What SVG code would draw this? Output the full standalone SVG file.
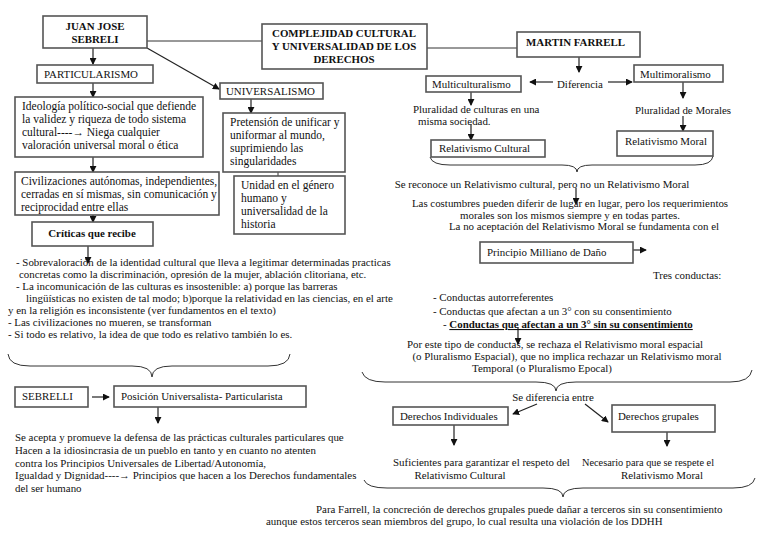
<svg xmlns="http://www.w3.org/2000/svg" width="768" height="543" viewBox="0 0 768 543">
<defs>
<style>
.box{fill:#fff;stroke:#555;stroke-width:1.6}
.t{font-family:"Liberation Serif","DejaVu Serif",serif;font-size:10.9px;fill:#111}
.lg{font-size:11.5px}
.b{font-weight:bold}
.c{text-anchor:middle}
.ln{stroke:#333;stroke-width:1;fill:none}
.ar{stroke:#222;stroke-width:1.2;fill:none;marker-end:url(#ah)}
</style>
<marker id="ah" viewBox="0 0 8 8" refX="7" refY="4" markerWidth="7" markerHeight="7" markerUnits="userSpaceOnUse" orient="auto">
<path d="M0,0 L8,4 L0,8 z" fill="#111"/>
</marker>
</defs>
<rect width="768" height="543" fill="#fff"/>

<g id="connectors">
<line class="ln" x1="147" y1="41" x2="262" y2="41"/>
<line class="ln" x1="427" y1="48" x2="517" y2="48"/>
<line class="ar" x1="93" y1="48" x2="93" y2="64"/>
<line class="ar" x1="147" y1="48" x2="219" y2="89"/>
<line class="ar" x1="93" y1="83" x2="93" y2="97"/>
<line class="ar" x1="93" y1="157" x2="93" y2="172"/>
<line class="ar" x1="93" y1="204" x2="93" y2="222"/>
<line class="ar" x1="88" y1="246" x2="88" y2="263"/>
<line class="ar" x1="251" y1="98" x2="251" y2="113"/>
<line class="ln" x1="278" y1="172" x2="278" y2="176"/>
<path class="ln" d="M8,354 Q9,366 30,366 L132,366 Q152,366 152,377 Q152,366 172,366 L268,366 Q289,366 290,354"/>
<line class="ar" x1="92" y1="397" x2="109" y2="397"/>
<line class="ar" x1="158" y1="407" x2="158" y2="423"/>
<line class="ar" x1="579" y1="57" x2="579" y2="72"/>
<line class="ar" x1="553" y1="82" x2="530" y2="82"/>
<line class="ar" x1="608" y1="82" x2="632" y2="82"/>
<line class="ar" x1="471" y1="92" x2="471" y2="105"/>
<line class="ar" x1="471" y1="124" x2="471" y2="140"/>
<line class="ar" x1="683" y1="82" x2="683" y2="98"/>
<line class="ar" x1="683" y1="116" x2="683" y2="131"/>
<path class="ln" d="M430,157 Q432,165 450,165 L562,165 Q577,165 577,172 Q577,165 592,165 L695,165 Q712,165 713,156"/>
<line class="ar" x1="576" y1="188" x2="576" y2="204"/>
<line class="ar" x1="633" y1="250" x2="646" y2="250"/>
<line class="ar" x1="518" y1="327" x2="518" y2="344"/>
<path class="ln" d="M362,372 Q365,382 385,382 L536,382 Q556,382 556,391 Q556,382 576,382 L730,382 Q750,382 752,370"/>
<line class="ar" x1="537" y1="404" x2="513" y2="414"/>
<line class="ar" x1="585" y1="404" x2="608" y2="422"/>
<line class="ar" x1="454" y1="425" x2="454" y2="445"/>
<line class="ar" x1="667" y1="432" x2="667" y2="446"/>
<path class="ln" d="M364,480 Q367,488 387,488 L543,488 Q563,488 563,497 Q563,488 583,488 L733,488 Q753,488 755,478"/>
</g>

<g id="juan-jose-sebreli">
<rect class="box" x="43" y="16" width="104" height="32"/>
<text class="t b c" x="95" y="30">JUAN JOSE</text>
<text class="t b c" x="95" y="43">SEBRELI</text>
</g>

<g id="complejidad">
<rect class="box" x="262" y="24" width="165" height="45"/>
<text class="t b c" x="344" y="37">COMPLEJIDAD CULTURAL</text>
<text class="t b c" x="344" y="50">Y UNIVERSALIDAD DE LOS</text>
<text class="t b c" x="344" y="63">DERECHOS</text>
</g>

<g id="martin-farrell">
<rect class="box" x="517" y="32" width="123" height="25"/>
<text class="t b" x="526" y="46">MARTIN FARRELL</text>
</g>

<g id="particularismo">
<rect class="box" x="37" y="65" width="116" height="18"/>
<text class="t" x="44" y="78">PARTICULARISMO</text>
</g>

<g id="universalismo">
<rect class="box" x="220" y="83" width="103" height="16"/>
<text class="t" x="226" y="95">UNIVERSALISMO</text>
</g>

<g id="ideologia">
<rect class="box" x="15" y="97" width="188" height="60"/>
<text class="t lg" x="22" y="110">Ideología político-social que defiende</text>
<text class="t lg" x="22" y="123">la validez y riqueza de todo sistema</text>
<text class="t lg" x="22" y="136">cultural----→ Niega cualquier</text>
<text class="t lg" x="22" y="149">valoración universal moral o ética</text>
</g>

<g id="civilizaciones">
<rect class="box" x="15" y="172" width="204" height="43"/>
<text class="t lg" x="21" y="185">Civilizaciones autónomas, independientes,</text>
<text class="t lg" x="21" y="198">cerradas en sí mismas, sin comunicación y</text>
<text class="t lg" x="21" y="211">reciprocidad entre ellas</text>
</g>

<g id="criticas">
<rect class="box" x="32" y="222" width="121" height="24"/>
<text class="t b c" x="92" y="237">Críticas que recibe</text>
</g>

<g id="pretension">
<rect class="box" x="223" y="113" width="122" height="59"/>
<text class="t lg" x="230" y="126">Pretensión de unificar y</text>
<text class="t lg" x="230" y="139">uniformar al mundo,</text>
<text class="t lg" x="230" y="152">suprimiendo las</text>
<text class="t lg" x="230" y="165">singularidades</text>
</g>

<g id="unidad">
<rect class="box" x="234" y="176" width="111" height="58"/>
<text class="t lg" x="241" y="189">Unidad en el género</text>
<text class="t lg" x="241" y="202">humano y</text>
<text class="t lg" x="241" y="215">universalidad de la</text>
<text class="t lg" x="241" y="228">historia</text>
</g>

<g id="criticas-texto">
<text class="t" x="16" y="266">- Sobrevaloración de la identidad cultural que lleva a legitimar determinadas practicas</text>
<text class="t" x="19" y="278">concretas como la discriminación, opresión de la mujer, ablación clitoriana, etc.</text>
<text class="t" x="16" y="290">- La incomunicación de las culturas es insostenible: a) porque las barreras</text>
<text class="t" x="26" y="302">lingüísticas no existen de tal modo; b)porque la relatividad en las ciencias, en el arte</text>
<text class="t" x="8" y="314">y en la religión es inconsistente (ver fundamentos en el texto)</text>
<text class="t" x="8" y="326">- Las civilizaciones no mueren, se transforman</text>
<text class="t" x="8" y="338">- Si todo es relativo, la idea de que todo es relativo también lo es.</text>
</g>

<g id="sebrelli">
<rect class="box" x="15" y="387" width="73" height="20"/>
<text class="t" x="22" y="400">SEBRELLI</text>
</g>

<g id="posicion">
<rect class="box" x="114" y="386" width="192" height="21"/>
<text class="t" x="121" y="400">Posición Universalista- Particularista</text>
</g>

<g id="se-acepta">
<text class="t" x="15" y="441">Se acepta y promueve la defensa de las prácticas culturales particulares que</text>
<text class="t" x="15" y="454">Hacen a la idiosincrasia de un pueblo en tanto y en cuanto no atenten</text>
<text class="t" x="15" y="467">contra los Principios Universales de Libertad/Autonomía,</text>
<text class="t" x="15" y="479">Igualdad y Dignidad----→ Principios que hacen a los Derechos fundamentales</text>
<text class="t" x="15" y="492">del ser humano</text>
</g>

<g id="multiculturalismo">
<rect class="box" x="426" y="76" width="95" height="16"/>
<text class="t" x="432" y="88">Multiculturalismo</text>
</g>

<g id="diferencia">
<text class="t" x="557" y="88">Diferencia</text>
</g>

<g id="multimoralismo">
<rect class="box" x="634" y="65" width="89" height="17"/>
<text class="t" x="640" y="78">Multimoralismo</text>
</g>

<g id="pluralidad-culturas">
<text class="t" x="413" y="113">Pluralidad de culturas en una</text>
<text class="t" x="418" y="125">misma sociedad.</text>
</g>

<g id="pluralidad-morales">
<text class="t c" x="683" y="114">Pluralidad de Morales</text>
</g>

<g id="relativismo-cultural">
<rect class="box" x="431" y="140" width="114" height="17"/>
<text class="t" x="439" y="152">Relativismo Cultural</text>
</g>

<g id="relativismo-moral">
<rect class="box" x="617" y="131" width="96" height="25"/>
<text class="t" x="625" y="145">Relativismo Moral</text>
</g>

<g id="se-reconoce">
<text class="t c" x="542" y="188">Se reconoce un Relativismo cultural, pero no un Relativismo Moral</text>
<text class="t c" x="570" y="207">Las costumbres pueden diferir de lugar en lugar, pero los requerimientos</text>
<text class="t c" x="570" y="219">morales son los mismos siempre y en todas partes.</text>
<text class="t c" x="584" y="230">La no aceptación del Relativismo Moral se fundamenta con el</text>
</g>

<g id="principio-milliano">
<rect class="box" x="480" y="242" width="153" height="21"/>
<text class="t" x="487" y="256">Principio Milliano de Daño</text>
</g>

<g id="tres-conductas">
<text class="t" x="653" y="279">Tres conductas:</text>
<text class="t" x="433" y="301">- Conductas autorreferentes</text>
<text class="t" x="433" y="315">- Conductas que afectan a un 3° con su consentimiento</text>
<text class="t" x="443" y="328">- <tspan class="b" text-decoration="underline">Conductas que afectan a un 3° sin su consentimiento</tspan></text>
</g>

<g id="por-este-tipo">
<text class="t c" x="555" y="348">Por este tipo de conductas, se rechaza el Relativismo moral espacial</text>
<text class="t c" x="567" y="360">(o Pluralismo Espacial), que no implica rechazar un Relativismo moral</text>
<text class="t c" x="542" y="372">Temporal (o Pluralismo Epocal)</text>
</g>

<g id="se-diferencia">
<text class="t c" x="553" y="401">Se diferencia entre</text>
</g>

<g id="derechos-individuales">
<rect class="box" x="393" y="407" width="115" height="18"/>
<text class="t" x="400" y="420">Derechos Individuales</text>
</g>

<g id="derechos-grupales">
<rect class="box" x="612" y="405" width="103" height="27"/>
<text class="t" x="618" y="420">Derechos grupales</text>
</g>

<g id="suficientes">
<text class="t" x="393" y="466">Suficientes para garantizar el respeto del</text>
<text class="t c" x="460" y="479">Relativismo Cultural</text>
</g>

<g id="necesario">
<text class="t" x="582" y="466" textLength="132" lengthAdjust="spacingAndGlyphs">Necesario para que se respete el</text>
<text class="t c" x="662" y="479">Relativismo Moral</text>
</g>

<g id="para-farrell">
<text class="t" x="316" y="513">Para Farrell, la concreción de derechos grupales puede dañar a terceros sin su consentimiento</text>
<text class="t" x="266" y="525">aunque estos terceros sean miembros del grupo, lo cual resulta una violación de los DDHH</text>
</g>
</svg>
